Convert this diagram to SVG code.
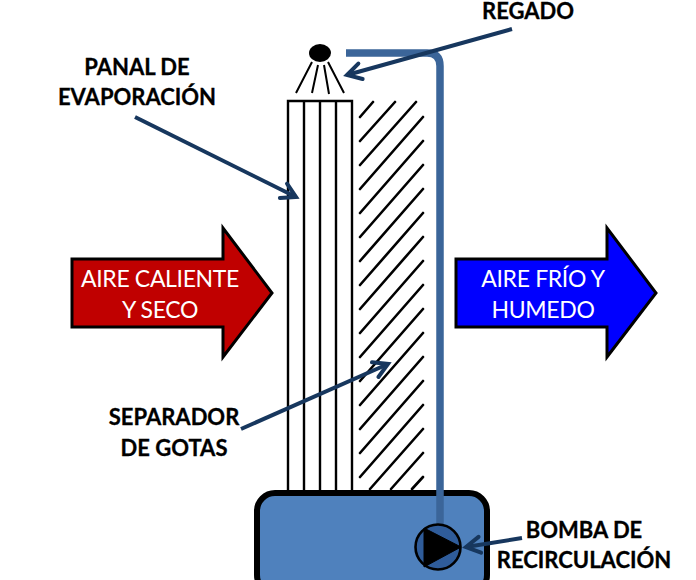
<svg xmlns="http://www.w3.org/2000/svg" width="696" height="580" viewBox="0 0 696 580">
<style>
text{font-family:Lato,"Liberation Sans",sans-serif;text-anchor:middle}
.lbl{font-size:22px;font-weight:700;fill:#000;stroke:#000;stroke-width:.3}
.wht{font-size:23px;letter-spacing:-.35px;fill:#fff}
.ln{stroke:#000;stroke-width:2.6;fill:none;stroke-linecap:round}
.ptr{stroke:#17375e;stroke-width:4;fill:none;marker-end:url(#open)}
</style>
<defs>
<marker id="open" markerUnits="userSpaceOnUse" markerWidth="24" markerHeight="24" refX="18" refY="12" orient="auto" overflow="visible">
<path d="M4 4L18 12L4 20" fill="none" stroke="#17375e" stroke-width="4" stroke-linecap="round"/>
</marker>
</defs>
<rect width="696" height="580" fill="#fff"/>
<g id="separador">
<path class="ln" d="M360 117L373 102M360 141L395 102M360 165L416 102M360 189L423 117M360 213L423 141M360 237L423 165M360 261L423 189M360 285L423 213M360 309L423 237M360 333L423 261M360 357L423 285M360 381L423 309M360 405L423 333M360 429L423 357M360 453L423 381M360 477L423 405M370 489L423 429M391 489L423 453M412 489L423 477"/>
</g>
<g id="panal">
<path d="M288 491V101H352V491M304 101V491M320 101V491M336 101V491" fill="none" stroke="#000" stroke-width="2.4"/>
</g>
<g id="deposito">
<rect x="257" y="493" width="230" height="100" rx="18" fill="#4f81bd" stroke="#000" stroke-width="6"/>
</g>
<g id="regado">
<ellipse cx="320" cy="53" rx="11" ry="9" fill="#000"/>
<path d="M312 62L296 93M318 65L312 93M324 65L329 94M328 62L344 93" fill="none" stroke="#000" stroke-width="2"/>
</g>
<g id="connectors">
<path d="M346 53H427Q440 53 440 66V525" fill="none" stroke="#3b6599" stroke-width="7.500"/>
<line class="ptr" x1="512" y1="29" x2="347" y2="75"/>
<line class="ptr" x1="135" y1="117" x2="296" y2="197"/>
<line class="ptr" x1="241" y1="429" x2="388" y2="364"/>
<line class="ptr" x1="522" y1="538" x2="466" y2="547"/>
</g>
<g id="bomba">
<circle cx="438" cy="547" r="22.500" fill="#2f5c9a" stroke="#000" stroke-width="2.600"/>
<path d="M424 528L461 547L424 567Z" fill="#000" stroke="#000" stroke-width="1"/>
</g>
<g id="aire-caliente">
<path d="M72 259H223V228L272 293L223 357V327H72Z" fill="#c00000" stroke="#000" stroke-width="3"/>
<text class="wht" x="160" y="287">AIRE CALIENTE</text>
<text class="wht" x="160" y="318">Y SECO</text>
</g>
<g id="aire-frio">
<path d="M456 259H607V228L656 293L607 357V327H456Z" fill="#0000ff" stroke="#000" stroke-width="3"/>
<text class="wht" x="543" y="287">AIRE FRÍO Y</text>
<text class="wht" x="543" y="318">HUMEDO</text>
</g>
<g id="labels">
<text class="lbl" x="528" y="19">REGADO</text>
<text class="lbl" x="137" y="75">PANAL DE</text>
<text class="lbl" x="137" y="105">EVAPORACIÓN</text>
<text class="lbl" x="174" y="425">SEPARADOR</text>
<text class="lbl" x="174" y="456">DE GOTAS</text>
<text class="lbl" x="584" y="538">BOMBA DE</text>
<text class="lbl" x="584" y="568">RECIRCULACIÓN</text>
</g>
</svg>
